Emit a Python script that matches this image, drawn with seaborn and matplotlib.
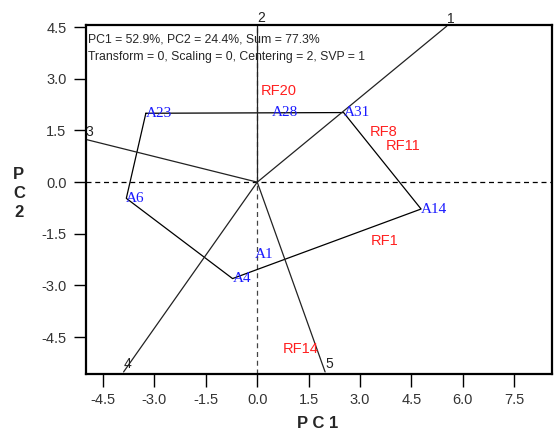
import numpy as np
import pandas as pd
import matplotlib
matplotlib.use("Agg")
import matplotlib.pyplot as plt
import seaborn as sns

# genotypes (blue labels, polygon vertices)
genotypes = ["A1", "A4", "A6", "A14", "A23", "A28", "A31"]
gen_pc1 = [-0.08, -0.72, -3.82, 4.78, -3.25, 0.43, 2.52]
gen_pc2 = [-2.10, -2.80, -0.47, -0.78, 2.00, 2.02, 2.02]
hull_order = ["A23", "A31", "A14", "A4", "A6", "A23"]

# environments (red labels)
environments = ["RF1", "RF8", "RF11", "RF14", "RF20"]
env_pc1 = [3.32, 3.29, 3.76, 0.73, 0.09]
env_pc2 = [-1.72, 1.45, 1.05, -4.83, 2.65]

# sector rays from origin
ray_names = ["1", "2", "3", "4", "5"]
ray_pc1 = [5.53, 0.0, -5.0, -3.90, 1.98]
ray_pc2 = [4.53, 4.56, 1.24, -5.51, -5.51]

header = ["PC1 = 52.9%, PC2 = 24.4%, Sum = 77.3%",
          "Transform = 0, Scaling = 0, Centering = 2, SVP = 1"]

xticks = [-4.5, -3.0, -1.5, 0.0, 1.5, 3.0, 4.5, 6.0, 7.5]
yticks = [-4.5, -3.0, -1.5, 0.0, 1.5, 3.0, 4.5]

sns.set_style("white")
plt.rcParams['font.family'] = ['Liberation Sans', 'DejaVu Sans']

fig = plt.figure(figsize=(5.54, 4.40), dpi=100)
ax = fig.add_axes([0.155, 0.15, 0.8414, 0.793])

gen = pd.DataFrame({"name": genotypes, "pc1": gen_pc1, "pc2": gen_pc2}).set_index("name")
hull = gen.loc[hull_order].reset_index()

ax.axhline(0, color="black", lw=0.9, ls=(0, (4, 3)), zorder=1)
ax.axvline(0, color="#444444", lw=0.9, ls=(0, (4, 3)), zorder=1)

sns.lineplot(data=hull, x="pc1", y="pc2", sort=False, estimator=None,
             color="black", lw=0.9, ax=ax, zorder=2)

for name, x, y in zip(ray_names, ray_pc1, ray_pc2):
    ax.plot([0, x], [0, y], color="#222222", lw=0.9, zorder=2)
    ax.text(x, y + 0.1, name, fontsize=10, color="#222222", ha="left",
            va="baseline", clip_on=False)

for name, x, y in zip(genotypes, gen_pc1, gen_pc2):
    ax.text(x, y, name, fontsize=11, color="#1a1aff", ha="left", va="center",
            family=["Liberation Serif", "DejaVu Serif"], zorder=3)

for name, x, y in zip(environments, env_pc1, env_pc2):
    ax.text(x, y, name, fontsize=10.5, color="#ff2020", ha="left", va="center", zorder=3)

ax.text(0.004, 0.975, header[0], transform=ax.transAxes, fontsize=8.8, va="top", ha="left")
ax.text(0.004, 0.925, header[1], transform=ax.transAxes, fontsize=8.8, va="top", ha="left")

ax.set_xlim(-5.0, 8.6)
ax.set_ylim(-5.57, 4.56)
ax.set_xticks(xticks)
ax.set_yticks(yticks)
ax.set_xticklabels([f"{v:.1f}" for v in xticks])
ax.set_yticklabels([f"{v:.1f}" for v in yticks])
ax.tick_params(direction="out", length=9, width=1, colors="black", labelcolor="#333333",
               labelsize=10.5, pad=5, bottom=True, left=True)
for s in ax.spines.values():
    s.set_linewidth(1.6)
    s.set_color("black")

ax.set_xlabel("")
ax.set_ylabel("")
fig.text(0.574, 0.02, "P C 1", fontsize=12, fontweight="bold", ha="center", va="bottom")
fig.text(0.034, 0.56, "P\nC\n2", fontsize=12, fontweight="bold", ha="center", va="center",
         linespacing=1.35)

fig.savefig("out.png", dpi=100)
